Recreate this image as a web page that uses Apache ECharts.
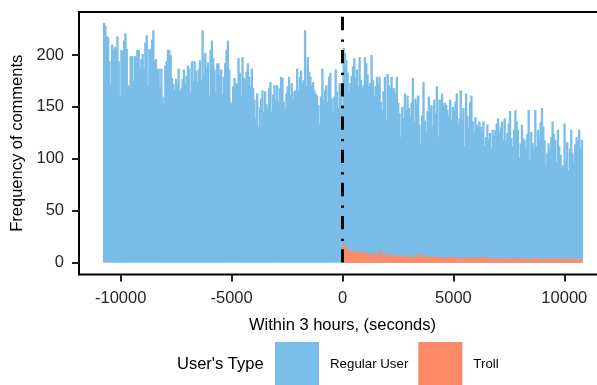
<!DOCTYPE html>
<html>
<head>
<meta charset="utf-8">
<script src="https://cdn.jsdelivr.net/npm/echarts@6/dist/echarts.min.js"></script>
<style>
  html, body { margin: 0; padding: 0; background: #ffffff; }
  #chart { width: 597px; height: 385px; }
</style>
</head>
<body>
<div id="chart"></div>
<script>
// Comment counts per 60-second bin, within 3 hours either side of the event (t = 0)
const binWidth = 60;
const regularStart = -10800;
const trollStart = 0;

const regularUser = [
  231,228,218,217,194,172,210,204,208,206,
  218,194,161,205,204,214,221,206,171,170,
  199,199,175,199,198,205,205,187,196,201,
  187,212,219,170,206,204,215,224,194,196,
  186,187,170,187,160,153,190,194,205,205,
  200,178,172,166,177,172,187,165,168,177,
  186,172,180,190,187,164,194,175,194,185,
  174,186,
  195,176,224,182,202,188,193,161,205,214,
  197,186,163,192,192,181,186,163,179,192,
  205,214,186,155,152,170,178,173,171,197,
  183,160,198,178,176,184,192,179,170,187,
  168,157,139,163,131,150,158,166,145,165,
  153,149,168,174,145,162,171,157,171,155,
  168,179,178,155,147,163,170,179,161,173,
  158,165,166,187,
  166,179,185,173,176,224,170,198,184,179,
  170,174,166,163,161,152,133,160,187,157,
  166,171,155,179,183,158,144,160,186,165,
  149,173,168,152,
  207,202,195,183,166,173,180,189,197,178,
  186,170,198,176,168,171,198,192,181,170,
  173,200,176,161,170,179,172,179,155,147,
  165,179,137,182,171,168,179,168,168,163,
  179,154,144,121,150,139,163,147,161,149,
  141,154,178,136,158,154,161,133,114,142,
  174,137,125,146,160,150,152,131,157,144,
  170,121,157,157,163,152,154,152,147,142,
  157,137,150,146,155,163,133,139,166,138,
  149,112,163,141,130,155,161,136,125,140,
  133,131,136,131,126,136,112,121,133,119,
  125,110,128,122,
  128,134,139,126,131,136,118,139,117,125,
  134,146,120,112,128,147,136,128,101,115,
  133,120,118,109,124,147,99,126,115,108,
  147,112,128,121,135,149,131,118,94,106,
  115,109,121,136,124,118,97,128,112,104,
  91,94,134,99,116,89,110,128,106,97,
  114,121,117,128,110,118
];

const troll = [
  18,16,14,9,11,8,12,9,10,7,11,8,10,9,11,7,10,8,9,6,
  9,7,8,6,9,7,8,5,12,7,6,8,5,7,6,9,6,5,7,6,
  8,6,5,7,4,6,5,7,5,6,4,5,7,4,5,6,4,10,6,5,
  8,5,6,4,7,5,4,6,5,4,6,3,5,4,6,5,3,5,4,6,
  4,5,3,4,6,3,4,5,3,4,3,5,4,3,4,6,3,4,3,5,
  4,3,5,4,3,4,7,3,4,3,5,4,3,4,3,5,3,4,2,4,
  3,4,3,5,3,2,4,3,4,3,5,3,4,2,3,4,3,5,3,2,
  4,3,2,4,3,5,3,2,3,4,2,3,4,3,2,3,5,2,3,4,
  3,2,4,3,2,3,5,2,3,2,4,3,2,3,4,2,3,2,3,4
];

const xTicks = [-10000, -5000, 0, 5000, 10000];
const yTicks = [0, 50, 100, 150, 200];
const xRange = [-11880, 11880];
const yRange = [-11.5, 241.5];
const markerX = 0;

const seriesNames = ['Regular User', 'Troll'];
const seriesColors = ['#79bde8', '#fe8a67'];

const FONT = '"Liberation Sans", Arial, Helvetica, sans-serif';

// [binStart, binEnd, count] rows for the custom bar renderer
function toBins(counts, start) {
  return counts.map((c, i) => [start + i * binWidth, start + (i + 1) * binWidth, c]);
}

// Each bin is a rectangle from its count down to zero; a one-pixel overlap
// keeps neighbouring bins from showing hairline seams.
function renderBin(params, api) {
  const top = api.coord([api.value(0), api.value(2)]);
  const base = api.coord([api.value(1), 0]);
  return {
    type: 'rect',
    shape: { x: top[0], y: top[1], width: base[0] - top[0] + 1, height: base[1] - top[1] },
    style: { fill: api.visual('color') }
  };
}

const plain = v => String(v);

const chart = echarts.init(document.getElementById('chart'), null, { renderer: 'canvas' });

chart.setOption({
  animation: false,
  backgroundColor: '#ffffff',
  textStyle: { fontFamily: FONT },
  grid: {
    left: 79, top: 12, width: 527, height: 262.5,
    outerBoundsMode: 'none',
    show: true, borderColor: '#000000', borderWidth: 2, backgroundColor: 'transparent'
  },
  xAxis: {
    type: 'value',
    min: xRange[0], max: xRange[1],
    axisLine: { show: false, onZero: false },
    splitLine: { show: false },
    axisTick: { show: true, length: 7, customValues: xTicks, lineStyle: { color: '#222222', width: 2 } },
    axisLabel: { customValues: xTicks, formatter: plain, margin: 15, fontSize: 16.5, color: '#262626', fontFamily: FONT },
    name: 'Within 3 hours, (seconds)',
    nameLocation: 'middle',
    nameGap: 42,
    nameTextStyle: { fontSize: 16.5, color: '#000000', fontFamily: FONT }
  },
  yAxis: {
    type: 'value',
    min: yRange[0], max: yRange[1],
    axisLine: { show: false, onZero: false },
    splitLine: { show: false },
    axisTick: { show: true, length: 7, customValues: yTicks, lineStyle: { color: '#222222', width: 2 } },
    axisLabel: { customValues: yTicks, formatter: plain, margin: 15, fontSize: 16.5, color: '#262626', fontFamily: FONT },
    name: 'Frequency of comments',
    nameLocation: 'middle',
    nameGap: 46,
    nameTextStyle: { fontSize: 16.5, color: '#000000', fontFamily: FONT }
  },
  legend: {
    data: seriesNames.map(n => ({ name: n, icon: 'rect' })),
    left: 275, top: 342, padding: 0,
    itemWidth: 44, itemHeight: 44, itemGap: 10,
    selectedMode: false,
    textStyle: { fontSize: 13.3, color: '#000000', fontFamily: FONT, padding: [0, 0, 0, 6] }
  },
  graphic: [{
    type: 'text', x: 177, y: 364,
    style: { text: "User's Type", fontSize: 16.5, fontFamily: FONT, fill: '#000000', verticalAlign: 'middle' }
  }],
  series: [
    {
      name: seriesNames[0], type: 'custom', renderItem: renderBin,
      itemStyle: { color: seriesColors[0] },
      encode: { x: [0, 1], y: 2 },
      data: toBins(regularUser, regularStart)
    },
    {
      name: seriesNames[1], type: 'custom', renderItem: renderBin,
      itemStyle: { color: seriesColors[1] },
      encode: { x: [0, 1], y: 2 },
      data: toBins(troll, trollStart)
    },
    {
      name: 'event', type: 'line', silent: true, symbol: 'none', z: 5,
      data: [[markerX, 0], [markerX, yRange[1]]],
      lineStyle: { color: '#000000', width: 3, type: [13.3, 8.3, 2.3, 9.3], cap: 'butt' }
    }
  ]
});
</script>
</body>
</html>
